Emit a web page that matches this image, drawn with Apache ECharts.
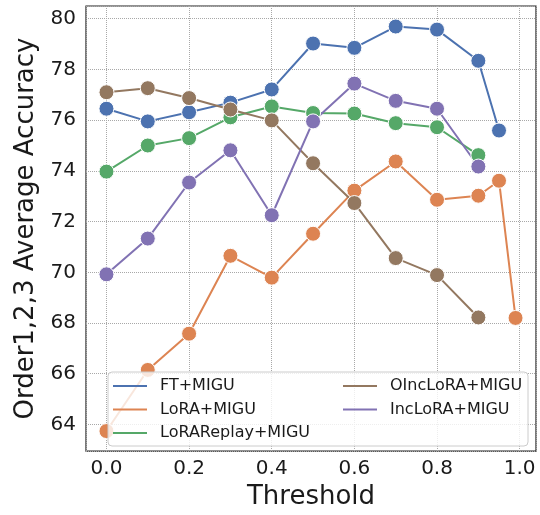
<!DOCTYPE html>
<html>
<head>
<meta charset="utf-8">
<script src="https://cdn.jsdelivr.net/npm/echarts@6/dist/echarts.min.js"></script>
<style>
  html, body { margin: 0; padding: 0; background: #fff; }
  #chart { width: 540px; height: 515px; }
</style>
</head>
<body>
<div id="chart"></div>
<script>
// Threshold sweep: average accuracy over orders 1,2,3
const thresholds = [0.0, 0.1, 0.2, 0.3, 0.4, 0.5, 0.6, 0.7, 0.8, 0.9];

const ftX = [...thresholds, 0.95];
const ftY = [76.45, 75.95, 76.31, 76.69, 77.21, 79.02, 78.85, 79.69, 79.57, 78.34, 75.59];

const loraX = [...thresholds, 0.95, 0.99];
const loraY = [63.74, 66.15, 67.58, 70.65, 69.79, 71.52, 73.22, 74.37, 72.86, 73.02, 73.61, 68.20];

const replayX = thresholds;
const replayY = [73.97, 75.00, 75.29, 76.11, 76.54, 76.28, 76.26, 75.88, 75.72, 74.62];

const oincX = thresholds;
const oincY = [77.10, 77.26, 76.87, 76.42, 75.99, 74.30, 72.73, 70.56, 69.89, 68.22];

const incX = thresholds;
const incY = [69.92, 71.33, 73.54, 74.81, 72.25, 75.95, 77.44, 76.76, 76.45, 74.17];

const seriesNames = ['FT+MIGU', 'LoRA+MIGU', 'LoRAReplay+MIGU', 'OIncLoRA+MIGU', 'IncLoRA+MIGU'];
const seriesColors = ['#4C72B0', '#DD8452', '#55A868', '#937860', '#8172B3'];
const seriesX = [ftX, loraX, replayX, oincX, incX];
const seriesY = [ftY, loraY, replayY, oincY, incY];

const FONT = 'DejaVu Sans';
const TEXT = '#1a1a1a';

const chart = echarts.init(document.getElementById('chart'), null, { renderer: 'canvas' });

const series = seriesNames.map((name, i) => ({
  name,
  type: 'line',
  data: seriesX[i].map((x, j) => [x, seriesY[i][j]]),
  symbol: 'circle',
  symbolSize: 15,
  showSymbol: true,
  lineStyle: { width: 2, color: seriesColors[i] },
  itemStyle: { color: seriesColors[i], borderColor: '#ffffff', borderWidth: 1 },
  emphasis: { disabled: true },
  animation: false
}));

const legendCommon = {
  orient: 'vertical',
  icon: 'rect',
  padding: 0,
  itemWidth: 34,
  itemHeight: 2,
  itemGap: 5.5,
  z: 10,
  itemStyle: { borderWidth: 0 },
  textStyle: { fontFamily: FONT, fontSize: 16, color: TEXT, padding: [0, 0, 0, 8], lineHeight: 18 },
  selectedMode: false
};

chart.setOption({
  backgroundColor: '#ffffff',
  animation: false,
  grid: {
    left: 86, right: 4, top: 6, bottom: 60,
    show: true, borderColor: '#222', borderWidth: 1.2, backgroundColor: 'transparent'
  },
  xAxis: {
    type: 'value',
    min: -0.0495, max: 1.0395,
    splitNumber: 5,
    name: 'Threshold',
    nameLocation: 'middle',
    nameGap: 28,
    nameTextStyle: { fontFamily: FONT, fontSize: 26, color: TEXT },
    axisLine: { show: false },
    axisTick: { show: false },
    axisLabel: {
      fontFamily: FONT, fontSize: 20, color: TEXT, margin: 8,
      showMinLabel: false, showMaxLabel: false,
      formatter: v => (Math.abs(v * 5 - Math.round(v * 5)) < 1e-6 ? v.toFixed(1) : '')
    },
    splitLine: { show: true, lineStyle: { type: 'dotted', color: '#a8a8a8', width: 1 } }
  },
  yAxis: {
    type: 'value',
    min: 62.95, max: 80.5,
    splitNumber: 8,
    name: 'Order1,2,3 Average Accuracy',
    nameLocation: 'middle',
    nameGap: 42,
    nameTextStyle: { fontFamily: FONT, fontSize: 26, color: TEXT },
    axisLine: { show: false },
    axisTick: { show: false },
    axisLabel: {
      fontFamily: FONT, fontSize: 20, color: TEXT, margin: 10,
      showMinLabel: false, showMaxLabel: false,
      formatter: v => (Math.abs(v / 2 - Math.round(v / 2)) < 1e-6 ? String(v) : '')
    },
    splitLine: { show: true, lineStyle: { type: 'dotted', color: '#a8a8a8', width: 1 } }
  },
  graphic: [{
    type: 'rect',
    z: 5,
    shape: { x: 108, y: 372, width: 420, height: 74, r: 4 },
    style: { fill: 'rgba(255,255,255,0.8)', stroke: '#cccccc', lineWidth: 1 }
  }],
  legend: [
    Object.assign({}, legendCommon, { left: 113, top: 377, data: seriesNames.slice(0, 3) }),
    Object.assign({}, legendCommon, { left: 343, top: 377, data: seriesNames.slice(3) })
  ],
  series
});
</script>
</body>
</html>
